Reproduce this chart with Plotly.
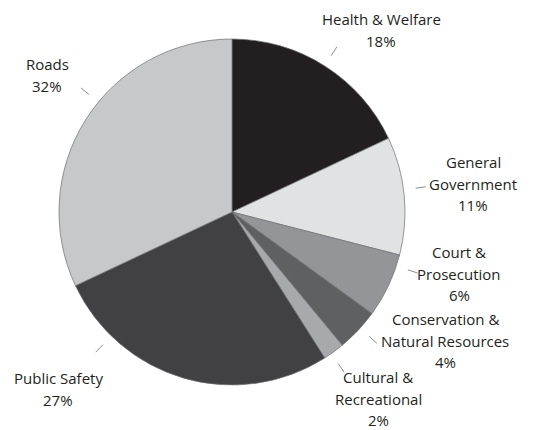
import math
import plotly.graph_objects as go

# ---- data ----
categories = ["Health & Welfare", "General Government", "Court & Prosecution",
              "Conservation & Natural Resources", "Cultural & Recreational",
              "Public Safety", "Roads"]
values = [18, 11, 6, 4, 2, 27, 32]
pct_labels = ["18%", "11%", "6%", "4%", "2%", "27%", "32%"]
label_lines = [["Health & Welfare"], ["General", "Government"], ["Court &", "Prosecution"],
               ["Conservation &", "Natural Resources"], ["Cultural &", "Recreational"],
               ["Public Safety"], ["Roads"]]

# ---- style / layout ----
colors = ["#231f20", "#e1e2e3", "#939598", "#5f6062", "#a7a9ac", "#414042", "#c7c8ca"]
W, H = 533, 430
OFF = 8  # page body margin offset (pixels)
CX, CY, R = 232 - OFF, 212 - OFF, 173  # pixel centre/radius of the pie within the figure
text_pos = [(381, 19), (473, 162), (459, 252), (445, 319), (378, 377), (58, 378), (47, 64)]
line_gap = 21.5
leader_offset = [0, -2, -7, -1, 1, 28, 7]   # degrees
leader_r = (1.07, 1.13)
font = dict(family="Open Sans, Lato, sans-serif", size=15, color="#231f20")

fig = go.Figure(go.Pie(
    labels=categories, values=values, sort=False, direction="clockwise", rotation=0,
    marker=dict(colors=colors, line=dict(color="#6d6e71", width=0.7)),
    textinfo="none", hoverinfo="label+percent",
    domain=dict(x=[(CX - R) / W, (CX + R) / W], y=[(H - CY - R) / H, (H - CY + R) / H]),
    showlegend=False,
))

annotations, shapes = [], []
total = sum(values)
cum = 0
for i, v in enumerate(values):
    mid = (cum + v / 2) / total * 360 + leader_offset[i]
    cum += v
    a = math.radians(mid)
    x0 = CX + R * leader_r[0] * math.sin(a)
    y0 = CY - R * leader_r[0] * math.cos(a)
    x1 = CX + R * leader_r[1] * math.sin(a)
    y1 = CY - R * leader_r[1] * math.cos(a)
    shapes.append(dict(type="line", xref="paper", yref="paper",
                       x0=x0 / W, y0=1 - y0 / H, x1=x1 / W, y1=1 - y1 / H,
                       line=dict(color="#6d6e71", width=0.8)))
    lines = label_lines[i] + [pct_labels[i]]
    tx, ty = text_pos[i][0] - OFF, text_pos[i][1] - OFF
    for j, t in enumerate(lines):
        annotations.append(dict(text=t, xref="paper", yref="paper",
                                x=tx / W, y=1 - (ty + j * line_gap) / H,
                                xanchor="center", yanchor="middle", showarrow=False,
                                font=font))

fig.update_layout(width=W, height=H, margin=dict(l=0, r=0, t=0, b=0),
                  paper_bgcolor="white", plot_bgcolor="white",
                  annotations=annotations, shapes=shapes)
fig.write_html("out.html")
